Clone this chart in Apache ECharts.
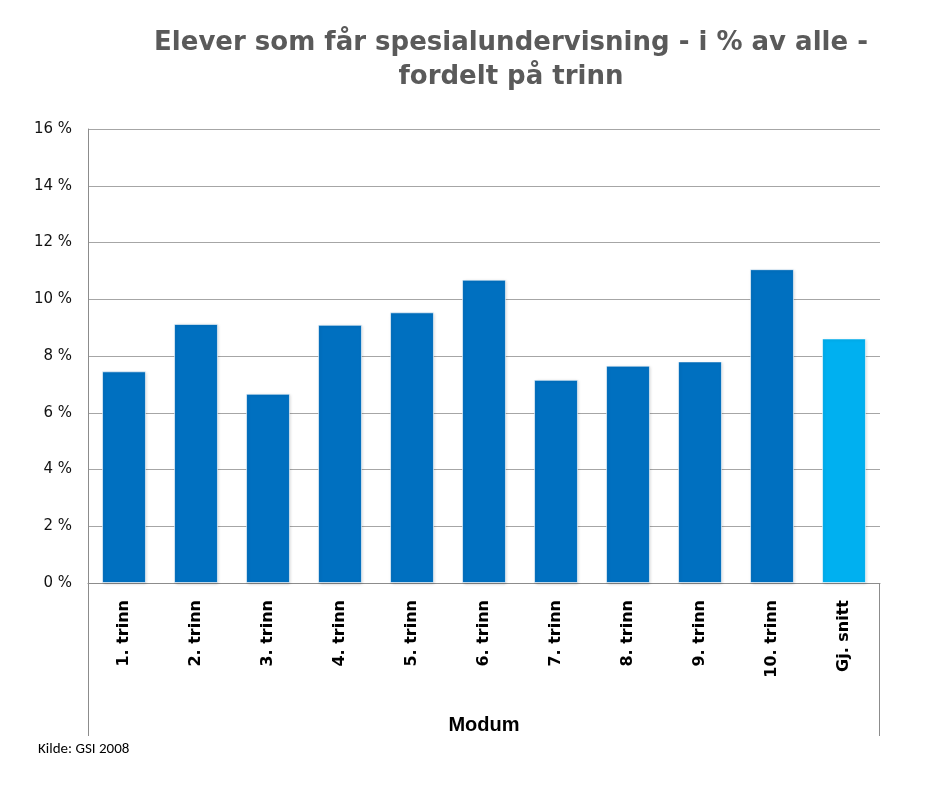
<!DOCTYPE html>
<html>
<head>
<meta charset="utf-8">
<script src="https://cdn.jsdelivr.net/npm/echarts@6/dist/echarts.min.js"></script>
<style>html,body{margin:0;padding:0;background:#fff}#c{width:925px;height:789px}</style>
</head>
<body>
<div id="c"></div>
<script>
var categories = ['1. trinn','2. trinn','3. trinn','4. trinn','5. trinn','6. trinn','7. trinn','8. trinn','9. trinn','10. trinn','Gj. snitt'];
var values = [7.46, 9.13, 6.67, 9.10, 9.54, 10.69, 7.16, 7.66, 7.81, 11.06, 8.62];
var highlightIndex = [10];
var titleText = 'Elever som får spesialundervisning - i % av alle -\nfordelt på trinn';
var axisName = 'Modum';
var sourceText = 'Kilde: GSI 2008';

var gL = 88, gR = 45, gT = 129, gB = 206;
var chart = echarts.init(document.getElementById('c'));
chart.setOption({
  animation: false,
  title: {
    text: titleText, left: 506, top: 21, textAlign: 'center',
    textStyle: {fontFamily: 'DejaVu Sans', fontWeight: 'bold', fontSize: 26, color: '#5a5a5a', lineHeight: 34}
  },
  grid: {left: gL, right: gR, top: gT, bottom: gB, containLabel: false},
  xAxis: {
    type: 'category', data: categories,
    name: axisName, nameLocation: 'middle', nameGap: 132,
    nameTextStyle: {fontFamily: 'Arial, Liberation Sans', fontWeight: 'bold', fontSize: 20, color: '#000'},
    axisLine: {show: true, lineStyle: {color: '#8c8c8c', width: 1}},
    axisTick: {show: false},
    axisLabel: {rotate: 90, margin: 17, fontFamily: 'DejaVu Sans', fontWeight: 'bold', fontSize: 16, color: '#000'}
  },
  yAxis: {
    type: 'value', min: 0, max: 16, interval: 2,
    axisLine: {show: true, lineStyle: {color: '#8c8c8c', width: 1}},
    axisTick: {show: false},
    splitLine: {lineStyle: {color: '#a6a6a6', width: 1}},
    axisLabel: {formatter: '{value} %', margin: 16, fontFamily: 'DejaVu Sans', fontSize: 15, color: '#111'}
  },
  series: [{
    type: 'bar', barWidth: '61%',
    data: values.map(function (v, i) {
      return {value: v, itemStyle: {color: highlightIndex.indexOf(i) >= 0 ? '#00b0f0' : '#0070c0'}};
    }),
    itemStyle: {borderColor: 'rgba(255,255,255,0.6)', borderWidth: 1, shadowColor: 'rgba(0,0,0,0.18)', shadowBlur: 3, shadowOffsetX: 1, shadowOffsetY: 1}
  }],
  graphic: [
    {type: 'line', shape: {x1: gL + 0.5, y1: 789 - gB, x2: gL + 0.5, y2: 736}, style: {stroke: '#8c8c8c', lineWidth: 1}},
    {type: 'line', shape: {x1: 925 - gR - 0.5, y1: 789 - gB, x2: 925 - gR - 0.5, y2: 736}, style: {stroke: '#8c8c8c', lineWidth: 1}},
    {type: 'text', left: 38, top: 742, style: {text: sourceText, font: '15px Carlito, "Liberation Sans", Arial', fill: '#000'}}
  ]
});
</script>
</body>
</html>
